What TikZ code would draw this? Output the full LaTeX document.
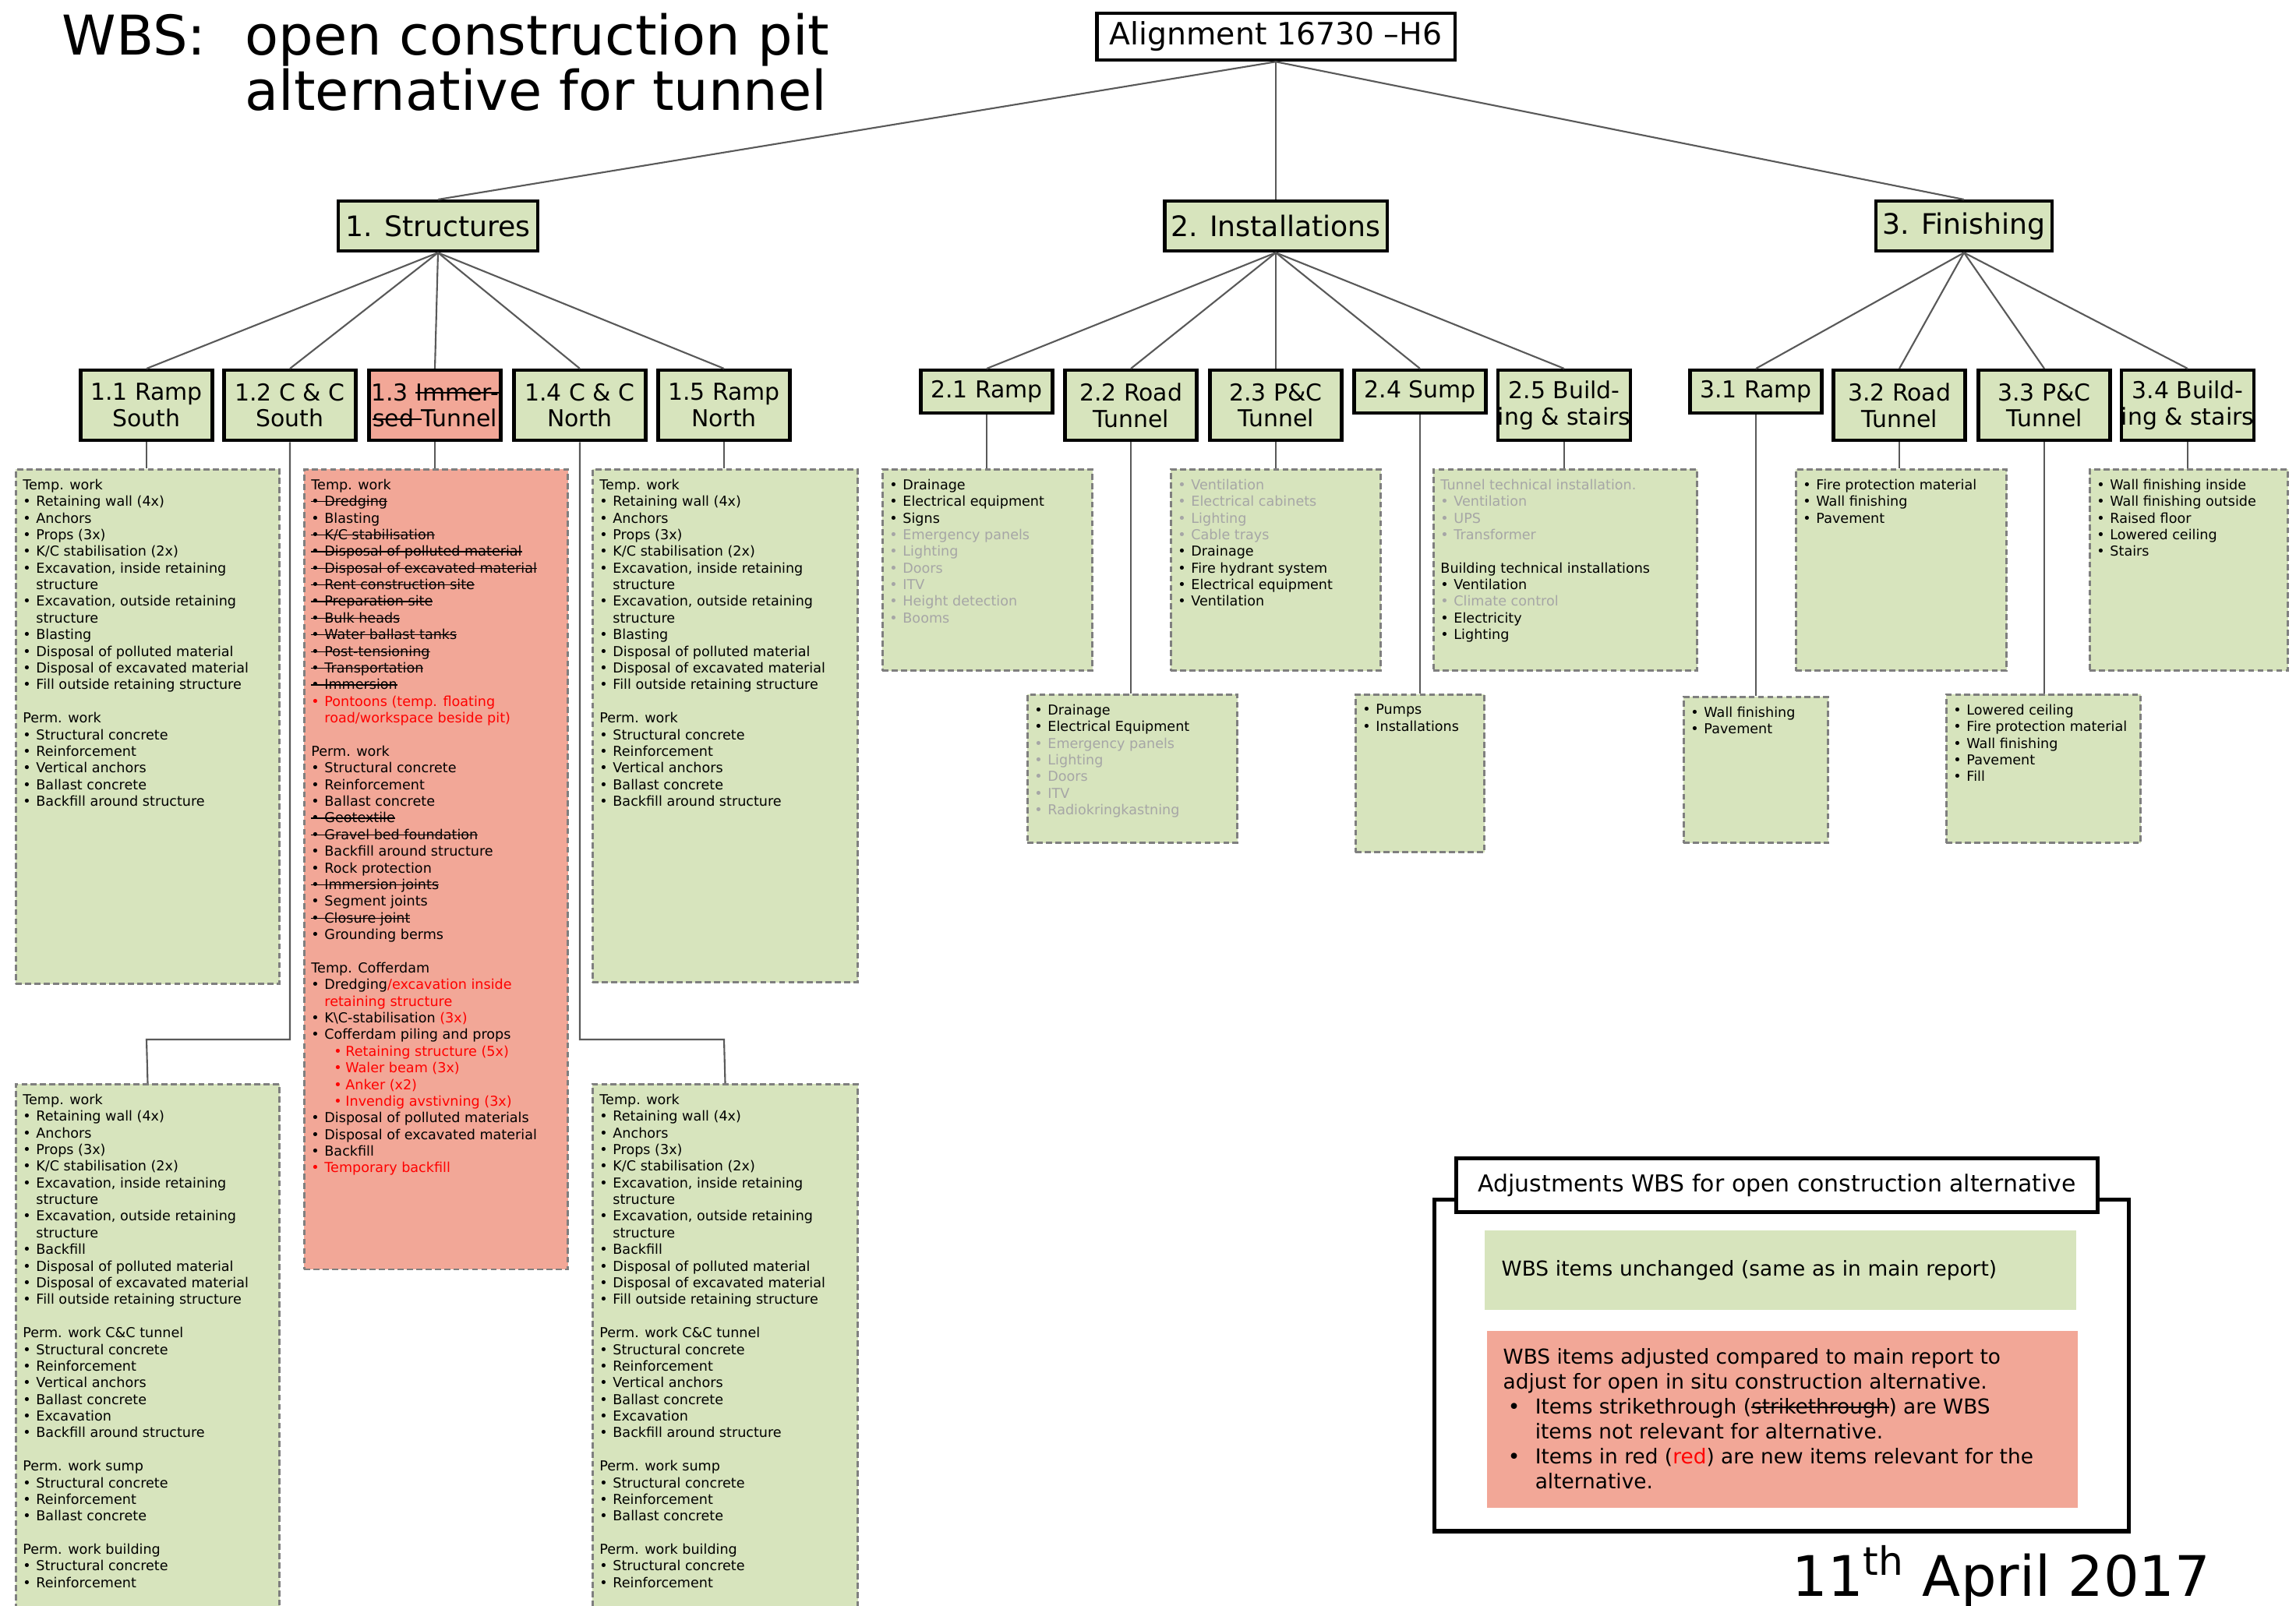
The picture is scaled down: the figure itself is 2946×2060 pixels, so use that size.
\documentclass[tikz,border=0pt]{standalone}
\usepackage{fontspec}
\setmainfont{DejaVu Sans}

\definecolor{wbsgreen}{HTML}{D7E4BD}
\definecolor{wbsred}{HTML}{F2A797}
\definecolor{wbsgrey}{HTML}{A6A6A6}
\definecolor{wbsline}{HTML}{595959}
\definecolor{wbsdash}{HTML}{7F7F7F}
\definecolor{newred}{HTML}{FF0000}

% bullets and marks for the item lists
\newlength{\bulw}\setlength{\bulw}{0.17cm}
\newcommand{\bul}{\makebox[\bulw][l]{\textbullet}}
\newcommand{\cnt}{\hspace*{\bulw}}
\newcommand{\subbul}{\hspace*{0.29cm}\makebox[0.15cm][l]{\textbullet}}
\newcommand{\lbul}{\hspace*{0.06cm}\makebox[0.35cm][l]{\textbullet}}
\newcommand{\lcnt}{\hspace*{0.41cm}}
\newsavebox{\strkbox}
\newcommand{\strikeit}[1]{\sbox{\strkbox}{#1}\rlap{\rule[0.55ex]{\wd\strkbox}{0.07em}}\usebox{\strkbox}}
\newcommand{\gr}[1]{\textcolor{wbsgrey}{#1}}
\newcommand{\nw}[1]{\textcolor{newred}{#1}}
\newcommand{\titlefont}{\fontsize{20}{18}\selectfont\setlength{\lineskiplimit}{-20pt}}

% lists that occur twice
\newcommand{\rampwork}{%
Temp. work\\
\bul Retaining wall (4x)\\
\bul Anchors\\
\bul Props (3x)\\
\bul K/C stabilisation (2x)\\
\bul Excavation, inside retaining\\
\cnt structure\\
\bul Excavation, outside retaining\\
\cnt structure\\
\bul Blasting\\
\bul Disposal of polluted material\\
\bul Disposal of excavated material\\
\bul Fill outside retaining structure\\[6.08pt]
Perm. work\\
\bul Structural concrete\\
\bul Reinforcement\\
\bul Vertical anchors\\
\bul Ballast concrete\\
\bul Backfill around structure}
\newcommand{\ccwork}{%
Temp. work\\
\bul Retaining wall (4x)\\
\bul Anchors\\
\bul Props (3x)\\
\bul K/C stabilisation (2x)\\
\bul Excavation, inside retaining\\
\cnt structure\\
\bul Excavation, outside retaining\\
\cnt structure\\
\bul Backfill\\
\bul Disposal of polluted material\\
\bul Disposal of excavated material\\
\bul Fill outside retaining structure\\[6.08pt]
Perm. work C\&C tunnel\\
\bul Structural concrete\\
\bul Reinforcement\\
\bul Vertical anchors\\
\bul Ballast concrete\\
\bul Excavation\\
\bul Backfill around structure\\[6.08pt]
Perm. work sump\\
\bul Structural concrete\\
\bul Reinforcement\\
\bul Ballast concrete\\[6.08pt]
Perm. work building\\
\bul Structural concrete\\
\bul Reinforcement}

\tikzset{
	link/.style={draw=wbsline, line width=0.6pt},
	title/.style={inner sep=0pt, anchor=base west, font=\titlefont},
	topbox/.style={draw, line width=1.2pt, fill=white, inner sep=0pt, minimum width=4.59cm, minimum height=0.60cm, anchor=north, font=\fontsize{11.2}{13}\selectfont},
	lvlone/.style={draw, line width=1.2pt, fill=wbsgreen, inner sep=0pt, minimum height=0.64cm, anchor=north, font=\fontsize{10.3}{12}\selectfont},
	lvltwo/.style={draw, line width=1.2pt, fill=wbsgreen, inner sep=0pt, minimum width=1.69cm, minimum height=0.90cm, anchor=north, align=center, font=\fontsize{8.5}{9.6}\selectfont},
	itembox/.style={draw=wbsdash, dash pattern=on 2.2pt off 1.2pt, line width=0.8pt, fill=wbsgreen, inner xsep=0.09cm, inner ysep=0.125cm, anchor=north west, font=\fontsize{5}{6.08}\selectfont},
	legtext/.style={inner sep=0pt, anchor=north west, font=\fontsize{7.5}{9.1}\selectfont}
}

\begin{document}
\begin{tikzpicture}[x=0.01cm, y=-0.01cm]
	\useasboundingbox (0,0) rectangle (2946,2060);
	\clip (0,0) rectangle (2946,2060);
	\fill[white] (0,0) rectangle (2946,2060);

	% title
	\node[title] (ttlwbs) at (79,70) {WBS:};
	\node[title] (ttlone) at (314,70) {\parbox[t]{8cm}{open construction pit\\alternative for tunnel}};

	% tree
	\node[topbox] (root) at (1637,15) {Alignment 16730 --H6};

	\node[lvlone, minimum width=2.56cm] (s1) at (562,256) {1. Structures};
	\node[lvlone, minimum width=2.85cm] (s2) at (1637,256) {2. Installations};
	\node[lvlone, minimum width=2.26cm] (s3) at (2520,256) {3. Finishing};

	\node[lvltwo] (s11) at (188,473) {1.1 Ramp\\South};
	\node[lvltwo] (s12) at (372,473) {1.2 C \& C\\South};
	\node[lvltwo, fill=wbsred] (s13) at (558,473) {1.3 \strikeit{Immer-}\\\strikeit{sed }Tunnel};
	\node[lvltwo] (s14) at (744,473) {1.4 C \& C\\North};
	\node[lvltwo] (s15) at (929,473) {1.5 Ramp\\North};
	\node[lvltwo, minimum height=0.55cm] (s21) at (1266,473) {2.1 Ramp};
	\node[lvltwo] (s22) at (1451,473) {2.2 Road\\Tunnel};
	\node[lvltwo] (s23) at (1637,473) {2.3 P\&C\\Tunnel};
	\node[lvltwo, minimum height=0.55cm] (s24) at (1822,473) {2.4 Sump};
	\node[lvltwo] (s25) at (2007,473) {2.5 Build-\\ing \& stairs};
	\node[lvltwo, minimum height=0.55cm] (s31) at (2253,473) {3.1 Ramp};
	\node[lvltwo] (s32) at (2437,473) {3.2 Road\\Tunnel};
	\node[lvltwo] (s33) at (2623,473) {3.3 P\&C\\Tunnel};
	\node[lvltwo] (s34) at (2807,473) {3.4 Build-\\ing \& stairs};

	\foreach \k in {1,2,3} \draw[link] (root.south) -- (s\k.north);
	\foreach \k in {1,...,5} \draw[link] (s1.south) -- (s1\k.north);
	\foreach \k in {1,...,5} \draw[link] (s2.south) -- (s2\k.north);
	\foreach \k in {1,...,4} \draw[link] (s3.south) -- (s3\k.north);

	% work packages 1
	\node[itembox] (b11) at (19,601) {\parbox[t][6.35cm][t]{3.20cm}{\rampwork}};
	\node[itembox, fill=wbsred] (b13) at (389,601) {\parbox[t][10.01cm][t]{3.20cm}{%
		Temp. work\\
		\strikeit{\bul Dredging}\\
		\bul Blasting\\
		\strikeit{\bul K/C stabilisation}\\
		\strikeit{\bul Disposal of polluted material}\\
		\strikeit{\bul Disposal of excavated material}\\
		\strikeit{\bul Rent construction site}\\
		\strikeit{\bul Preparation site}\\
		\strikeit{\bul Bulk heads}\\
		\strikeit{\bul Water ballast tanks}\\
		\strikeit{\bul Post-tensioning}\\
		\strikeit{\bul Transportation}\\
		\strikeit{\bul Immersion}\\
		\nw{\bul Pontoons (temp. floating}\\
		\nw{\cnt road/workspace beside pit)}\\[6.08pt]
		Perm. work\\
		\bul Structural concrete\\
		\bul Reinforcement\\
		\bul Ballast concrete\\
		\strikeit{\bul Geotextile}\\
		\strikeit{\bul Gravel bed foundation}\\
		\bul Backfill around structure\\
		\bul Rock protection\\
		\strikeit{\bul Immersion joints}\\
		\bul Segment joints\\
		\strikeit{\bul Closure joint}\\
		\bul Grounding berms\\[6.08pt]
		Temp. Cofferdam\\
		\bul Dredging\nw{/excavation inside}\\
		\nw{\cnt retaining structure}\\
		\bul K\textbackslash C-stabilisation \nw{(3x)}\\
		\bul Cofferdam piling and props\\
		\nw{\subbul Retaining structure (5x)}\\
		\nw{\subbul Waler beam (3x)}\\
		\nw{\subbul Anker (x2)}\\
		\nw{\subbul Invendig avstivning (3x)}\\
		\bul Disposal of polluted materials\\
		\bul Disposal of excavated material\\
		\bul Backfill\\
		\nw{\bul Temporary backfill}}};
	\node[itembox] (b15) at (759,601) {\parbox[t][6.33cm][t]{3.22cm}{\rampwork}};
	\node[itembox] (b12) at (19,1390) {\parbox[t][7.00cm][t]{3.20cm}{\ccwork}};
	\node[itembox] (b14) at (759,1390) {\parbox[t][7.00cm][t]{3.22cm}{\ccwork}};

	\coordinate (k12) at (188,1334);
	\coordinate (k14) at (929,1334);
	\draw[link] (s11.south) -- (s11.south |- b11.north);
	\draw[link] (s13.south) -- (s13.south |- b13.north);
	\draw[link] (s15.south) -- (s15.south |- b15.north);
	\draw[link] (s12.south) |- (k12) -- (b12.north);
	\draw[link] (s14.south) |- (k14) -- (b14.north);

	% work packages 2
	\node[itembox] (b21) at (1131,601) {\parbox[t][2.33cm][t]{2.51cm}{%
		\bul Drainage\\
		\bul Electrical equipment\\
		\bul Signs\\
		\gr{\bul Emergency panels}\\
		\gr{\bul Lighting}\\
		\gr{\bul Doors}\\
		\gr{\bul ITV}\\
		\gr{\bul Height detection}\\
		\gr{\bul Booms}}};
	\node[itembox] (b22) at (1317,890) {\parbox[t][1.65cm][t]{2.51cm}{%
		\bul Drainage\\
		\bul Electrical Equipment\\
		\gr{\bul Emergency panels}\\
		\gr{\bul Lighting}\\
		\gr{\bul Doors}\\
		\gr{\bul ITV}\\
		\gr{\bul Radiokringkastning}}};
	\node[itembox] (b23) at (1501,601) {\parbox[t][2.33cm][t]{2.51cm}{%
		\gr{\bul Ventilation}\\
		\gr{\bul Electrical cabinets}\\
		\gr{\bul Lighting}\\
		\gr{\bul Cable trays}\\
		\bul Drainage\\
		\bul Fire hydrant system\\
		\bul Electrical equipment\\
		\bul Ventilation}};
	\node[itembox] (b24) at (1738,890) {\parbox[t][1.77cm][t]{1.47cm}{%
		\bul Pumps\\
		\bul Installations}};
	\node[itembox] (b25) at (1838,601) {\parbox[t][2.33cm][t]{3.20cm}{%
		\gr{Tunnel technical installation.}\\
		\gr{\bul Ventilation}\\
		\gr{\bul UPS}\\
		\gr{\bul Transformer}\\[6.08pt]
		Building technical installations\\
		\bul Ventilation\\
		\gr{\bul Climate control}\\
		\bul Electricity\\
		\bul Lighting}};

	\foreach \k in {1,...,5} \draw[link] (s2\k.south) -- (s2\k.south |- b2\k.north);

	% work packages 3
	\node[itembox] (b31) at (2159,893) {\parbox[t][1.62cm][t]{1.67cm}{%
		\bul Wall finishing\\
		\bul Pavement}};
	\node[itembox] (b32) at (2303,601) {\parbox[t][2.33cm][t]{2.52cm}{%
		\bul Fire protection material\\
		\bul Wall finishing\\
		\bul Pavement}};
	\node[itembox] (b33) at (2496,890) {\parbox[t][1.65cm][t]{2.31cm}{%
		\bul Lowered ceiling\\
		\bul Fire protection material\\
		\bul Wall finishing\\
		\bul Pavement\\
		\bul Fill}};
	\node[itembox] (b34) at (2680,601) {\parbox[t][2.33cm][t]{2.36cm}{%
		\bul Wall finishing inside\\
		\bul Wall finishing outside\\
		\bul Raised floor\\
		\bul Lowered ceiling\\
		\bul Stairs}};

	\foreach \k in {1,...,4} \draw[link] (s3\k.south) -- (s3\k.south |- b3\k.north);

	% legend
	\node[draw, line width=1.5pt, inner sep=0pt, anchor=north west, minimum width=8.90cm, minimum height=4.25cm] (legend) at (1838,1537) {};
	\node[draw, line width=1.5pt, fill=white, inner sep=0pt, minimum width=8.22cm, minimum height=0.69cm, font=\fontsize{8.5}{10}\selectfont] (legtitle) at (2280,1521) {Adjustments WBS for open construction alternative};
	\node[legtext, fill=wbsgreen, text width=7.15cm, minimum height=1.02cm, inner xsep=0.22cm, align=left] (legsame) at (1904,1578) {WBS items unchanged (same as in main report)};
	\node[legtext, fill=wbsred, inner xsep=0.21cm, inner ysep=0.23cm] (legadj) at (1907,1707) {\parbox[t][1.81cm][t]{7.16cm}{%
		WBS items adjusted compared to main report to\\
		adjust for open in situ construction alternative.\\
		\lbul Items strikethrough (\strikeit{strikethrough}) are WBS\\
		\lcnt items not relevant for alternative.\\
		\lbul Items in red (\nw{red}) are new items relevant for the\\
		\lcnt alternative.}};

	\node[inner sep=0pt, anchor=base east, font=\fontsize{20.4}{24}\selectfont] (date) at (2837,2048) {11\textsuperscript{th} April 2017};
\end{tikzpicture}
\end{document}
